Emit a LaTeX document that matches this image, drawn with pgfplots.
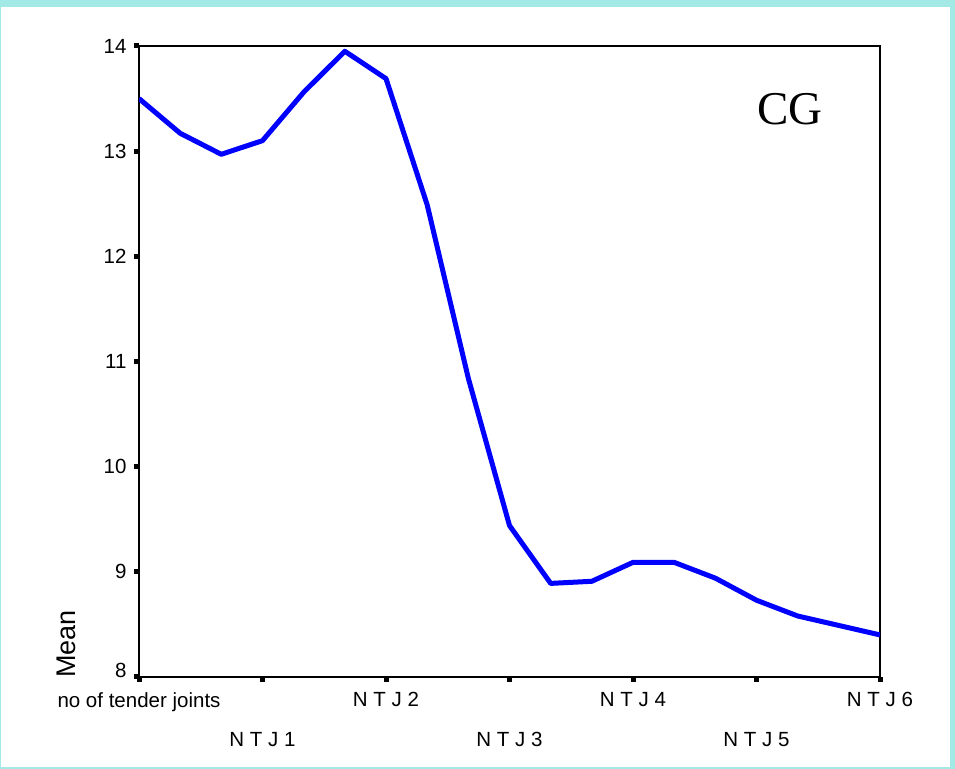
\documentclass[border=0pt]{standalone}
\usepackage{fontspec}
\setmainfont{Liberation Sans}
\newfontfamily\timesfont{Liberation Serif}
\usepackage{pgfplots}
\pgfplotsset{compat=1.18}
\definecolor{framecyan}{RGB}{163,233,230}
\definecolor{lineblue}{RGB}{0,0,255}
\pgfplotstableread{
x y
0 13.50
1 13.17
2 12.97
3 13.10
4 13.56
5 13.95
6 13.69
7 12.49
8 10.84
9 9.44
10 8.89
11 8.91
12 9.09
13 9.09
14 8.94
15 8.73
16 8.58
17 8.49
18 8.40
}\meandata
\begin{document}
\begin{tikzpicture}[x=1bp,y=1bp]
\useasboundingbox (0,0) rectangle (955,769);
\fill[framecyan] (0,0) rectangle (955,769);
\fill[white] (1,2) rectangle (950,762);
\begin{axis}[
  at={(139bp,92bp)}, anchor=south west,
  scale only axis, width=741bp, height=631bp,
  xmin=0, xmax=18, ymin=8, ymax=14,
  axis line style={line width=2bp, black},
  tick align=outside,
  major tick length=5bp,
  tick style={line width=5bp, black},
  xtick pos=bottom, ytick pos=left,
  xtick={0,6,12,18},
  xticklabels={no of tender joints, N T J 2, N T J 4, N T J 6},
  xticklabel style={yshift=-7bp},
  extra x ticks={3,9,15},
  extra x tick labels={N T J 1, N T J 3, N T J 5},
  extra x tick style={tick label style={yshift=-40bp}},
  ytick={9,10,11,12,13,14},
  yticklabel style={xshift=-4bp},
  extra y ticks={8},
  extra y tick style={tick label style={yshift=7bp}},
  /pgf/number format/assume math mode=true,
  tick label style={font=\fontsize{20.5bp}{24bp}\selectfont, text=black},
  ylabel={Mean},
  ylabel style={at={(axis description cs:-0.0985,0.052)}, anchor=center, rotate=0, font=\fontsize{27bp}{30bp}\selectfont},
]
\addplot[lineblue, line width=5bp, line join=round, mark=none] table[x=x, y=y] {\meandata};
\node[font=\timesfont\fontsize{47bp}{50bp}\selectfont, anchor=center] at (axis description cs:0.8785,0.900) {CG};
\end{axis}
\end{tikzpicture}
\end{document}
